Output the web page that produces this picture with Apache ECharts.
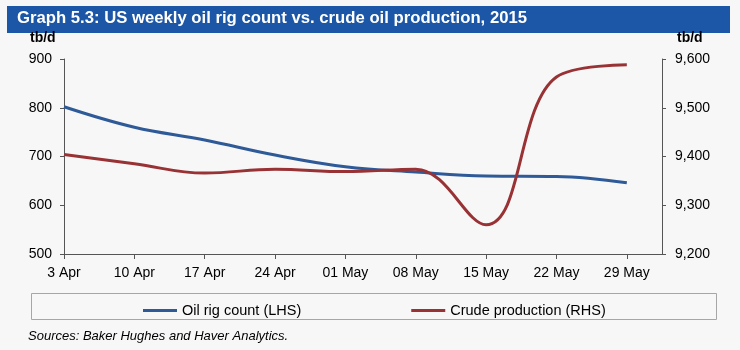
<!DOCTYPE html>
<html>
<head>
<meta charset="utf-8">
<script src="https://cdn.jsdelivr.net/npm/echarts@6/dist/echarts.min.js"></script>
<style>
html,body{margin:0;padding:0;background:#f7f7f7;}
#chart{width:740px;height:350px;}
</style>
</head>
<body>
<div id="chart"></div>
<script>
const categories = ['3 Apr','10 Apr','17 Apr','24 Apr','01 May','08 May','15 May','22 May','29 May'];
const rigCount = [802, 760, 734, 703, 679, 668, 660, 659, 646];
const crudeProduction = [9404, 9385, 9366, 9374, 9369, 9374, 9260, 9563, 9588];
const leftTicks = [500, 600, 700, 800, 900];
const rightTicks = [9200, 9300, 9400, 9500, 9600];

const font = '"Liberation Sans", Arial, sans-serif';
const idx = categories.map((c, i) => i);

const chart = echarts.init(document.getElementById('chart'));
chart.setOption({
  backgroundColor: '#f7f7f7',
  animation: false,
  grid: {left: 64, right: 78, top: 59, bottom: 96},
  graphic: [
    {type: 'rect', shape: {x: 7, y: 6, width: 723, height: 27}, style: {fill: '#1c56a6'}},
    {type: 'text', left: 17, top: 10, style: {text: 'Graph 5.3: US weekly oil rig count vs. crude oil production, 2015', fill: '#ffffff', font: 'bold 16.7px ' + font}},
    {type: 'text', left: 30, top: 31, style: {text: 'tb/d', fill: '#000', font: 'bold 14px ' + font}},
    {type: 'text', left: 677, top: 31, style: {text: 'tb/d', fill: '#000', font: 'bold 14px ' + font}},
    {type: 'rect', shape: {x: 31.5, y: 293.5, width: 685, height: 26}, style: {fill: 'none', stroke: '#a6a6a6', lineWidth: 1}},
    {type: 'text', left: 28, top: 330, style: {text: 'Sources: Baker Hughes and Haver Analytics.', fill: '#000', font: 'italic 13px ' + font}}
  ],
  legend: {
    left: 138, top: 298,
    itemWidth: 34, itemHeight: 3, itemGap: 110,
    icon: 'rect',
    textStyle: {fontFamily: font, fontSize: 14.5, color: '#000'},
    data: ['Oil rig count (LHS)', 'Crude production (RHS)']
  },
  xAxis: {
    type: 'value', min: 0, max: 8.5, interval: 1,
    splitLine: {show: false},
    axisLine: {lineStyle: {color: '#555', width: 1}},
    axisTick: {show: true, length: 5, lineStyle: {color: '#555'}, customValues: idx},
    axisLabel: {customValues: idx, margin: 12, fontFamily: font, fontSize: 14, color: '#000',
      formatter: v => categories[Math.round(v)] ?? ''}
  },
  yAxis: [
    {type: 'value', min: leftTicks[0], max: leftTicks[leftTicks.length-1], interval: 100, position: 'left',
     splitLine: {show: false},
     axisLine: {show: true, lineStyle: {color: '#555'}},
     axisTick: {show: true, length: 4, lineStyle: {color: '#555'}},
     axisLabel: {margin: 12, fontFamily: font, fontSize: 14, color: '#000'}},
    {type: 'value', min: rightTicks[0], max: rightTicks[rightTicks.length-1], interval: 100, position: 'right',
     splitLine: {show: false},
     axisLine: {show: true, lineStyle: {color: '#555'}},
     axisTick: {show: true, length: 4, lineStyle: {color: '#555'}},
     axisLabel: {margin: 13, fontFamily: font, fontSize: 14, color: '#000',
       formatter: v => v.toLocaleString('en-US')}}
  ],
  series: [
    {name: 'Oil rig count (LHS)', type: 'line', yAxisIndex: 0, smooth: 0.4, showSymbol: false,
     lineStyle: {width: 3, color: '#2f5a98'}, itemStyle: {color: '#2f5a98'},
     data: rigCount.map((v, i) => [i, v])},
    {name: 'Crude production (RHS)', type: 'line', yAxisIndex: 1, smooth: 0.4, showSymbol: false,
     lineStyle: {width: 3, color: '#983235'}, itemStyle: {color: '#983235'},
     data: crudeProduction.map((v, i) => [i, v])}
  ]
});
</script>
</body>
</html>
